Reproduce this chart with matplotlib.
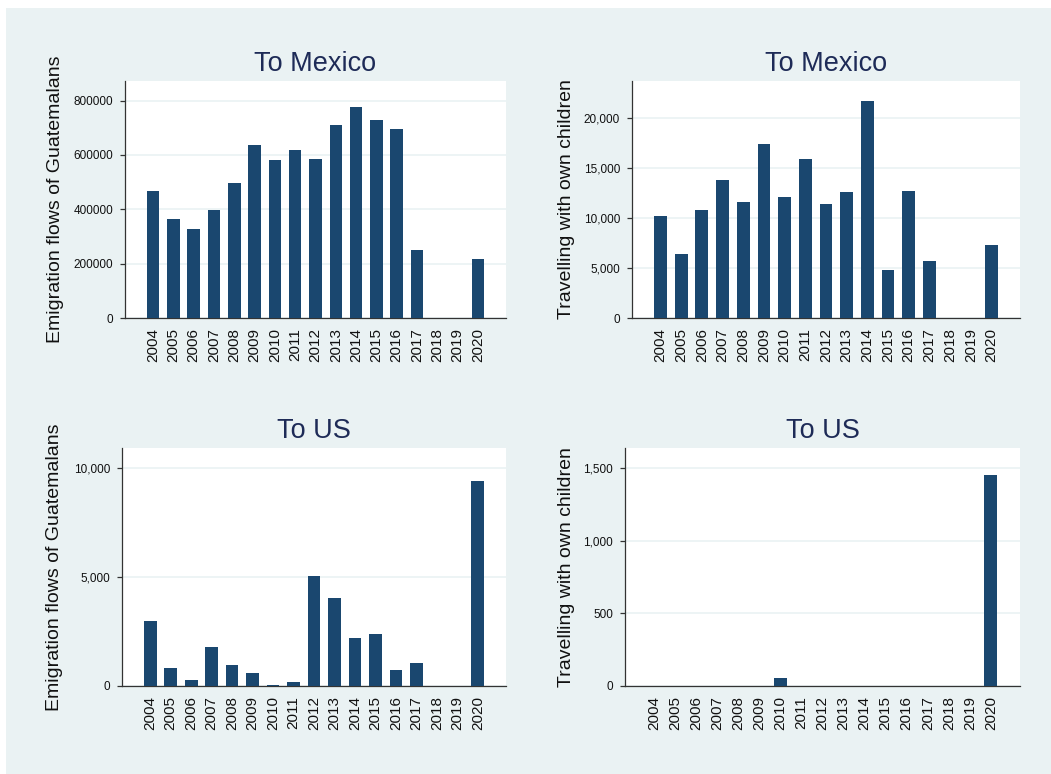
import numpy as np
import matplotlib
matplotlib.use('Agg')
import matplotlib.pyplot as plt
from matplotlib.patches import Rectangle
from matplotlib.ticker import FuncFormatter

plt.rcParams['font.family'] = ['Liberation Sans', 'DejaVu Sans']

# data
years = [str(y) for y in range(2004, 2021)]

mexico_flows = [468000, 365000, 328000, 398000, 497000, 637000, 581000, 619000, 586000,
                711000, 775000, 729000, 696000, 251000, 0, 0, 218000]
mexico_children = [10230, 6430, 10830, 13830, 11570, 17430, 12130, 15930, 11400,
                   12600, 21730, 4830, 12730, 5730, 0, 0, 7270]
us_flows = [2990, 845, 260, 1780, 950, 585, 45, 170, 5045,
            4035, 2210, 2375, 720, 1045, 0, 0, 9415]
us_children = [0, 0, 0, 0, 0, 0, 53, 0, 0, 0, 0, 0, 0, 0, 0, 0, 1454]

BAR = '#1a476f'
BG = '#eaf2f3'
TITLE = '#1e2b57'
W, H = 1051, 774

fig = plt.figure(figsize=(W / 100, H / 100), dpi=100)
fig.patches.append(Rectangle((6 / W, 0), 1 - 6 / W, 1 - 8 / H, transform=fig.transFigure,
                             facecolor=BG, edgecolor='none', zorder=-10))


def px_axes(left, right, top, bottom):
    return fig.add_axes([left / W, 1 - bottom / H, (right - left) / W, (bottom - top) / H])


plain = FuncFormatter(lambda v, p: f'{v:.0f}')
comma = FuncFormatter(lambda v, p: f'{v:,.0f}')

panels = [
    # (box, values, title, ylabel, yticks, ymax, formatter, ylabel offset px)
    ((125, 506, 81, 318), mexico_flows, 'To Mexico', 'Emigration flows of Guatemalans',
     [0, 200000, 400000, 600000, 800000], 872000, plain, 61),
    ((632, 1020, 81, 318), mexico_children, 'To Mexico', 'Travelling with own children',
     [0, 5000, 10000, 15000, 20000], 23730, comma, 57),
    ((122, 506, 448, 686), us_flows, 'To US', 'Emigration flows of Guatemalans',
     [0, 5000, 10000], 10920, comma, 59),
    ((625, 1020, 448, 686), us_children, 'To US', 'Travelling with own children',
     [0, 500, 1000, 1500], 1638, comma, 50),
]

x = np.arange(len(years))
for box, vals, title, ylabel, yticks, ymax, fmt, yoff in panels:
    ax = px_axes(*box)
    ax.set_facecolor('white')
    ax.bar(x, vals, width=0.62, color=BAR, zorder=3)
    ax.set_xlim(-1.38, len(years) - 1 + 1.38)
    ax.set_ylim(0, ymax)
    ax.set_yticks(yticks)
    ax.yaxis.set_major_formatter(fmt)
    ax.set_xticks(x)
    ax.set_xticklabels(years, rotation=90, fontsize=11)
    ax.tick_params(axis='x', length=0, pad=7, colors='#111111')
    ax.tick_params(axis='y', length=3.6, width=0.9, pad=5, labelsize=8.5,
                   colors='#333333', labelcolor='#111111')
    ax.grid(axis='y', color=BG, linewidth=1.2, zorder=0)
    for s in ['top', 'right']:
        ax.spines[s].set_visible(False)
    for s in ['left', 'bottom']:
        ax.spines[s].set_color('#333333')
        ax.spines[s].set_linewidth(0.9)
    ax.set_title(title, fontsize=19.5, color=TITLE, pad=7)
    ax.set_ylabel(ylabel, fontsize=14, color='#111111')
    ax.yaxis.set_label_coords(-yoff / (box[1] - box[0]), 0.5)

fig.savefig('out.png', dpi=100)
